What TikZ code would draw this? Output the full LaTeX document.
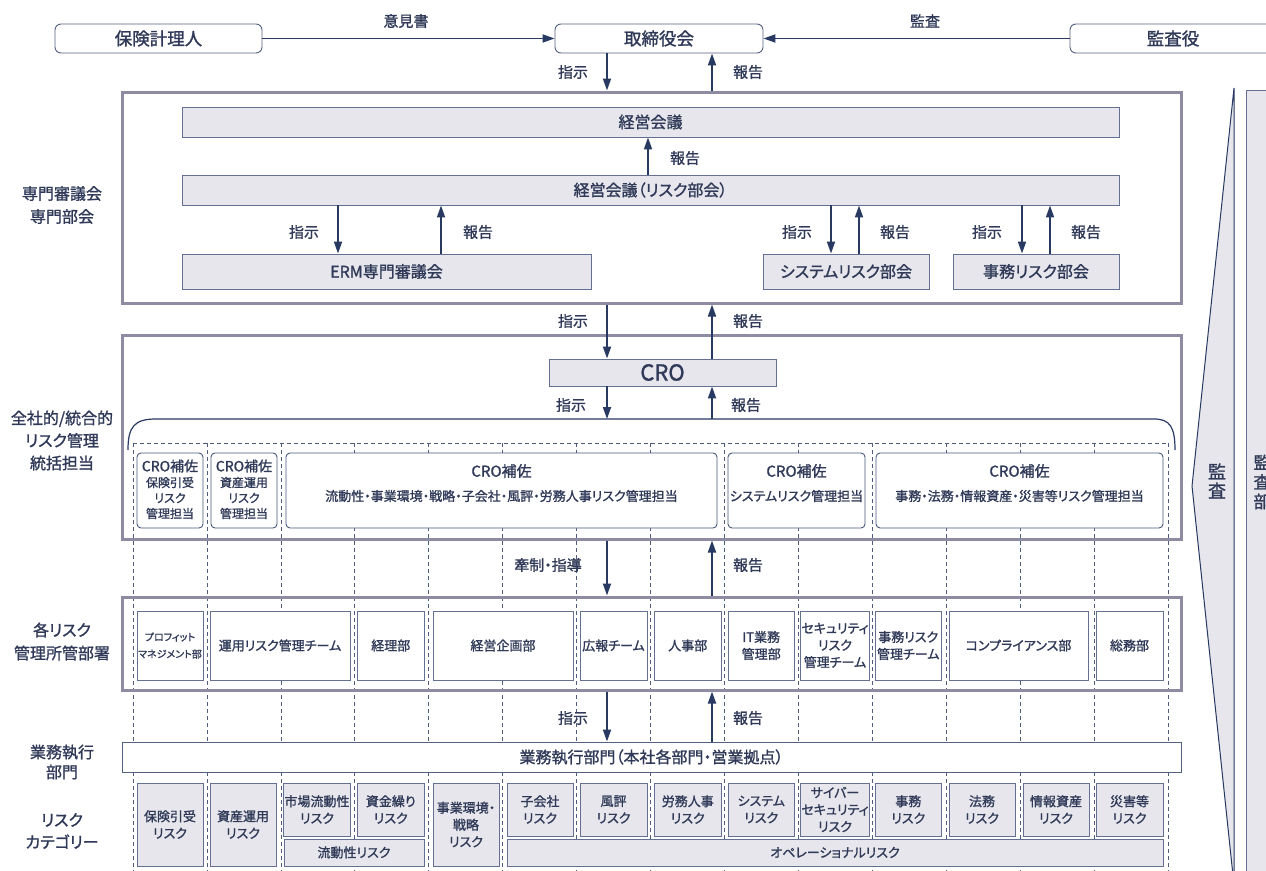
\documentclass[tikz,border=0pt]{standalone}
\usepackage{fontspec}
\setmainfont{Noto Sans CJK JP}[RawFeature=+palt, FakeBold=1.3]
\usetikzlibrary{arrows.meta}
\definecolor{navy}{RGB}{40,57,98}
\definecolor{txt}{RGB}{48,58,88}
\definecolor{gfill}{RGB}{230,230,236}
\definecolor{gbord}{RGB}{100,112,145}
\definecolor{framec}{RGB}{143,139,162}
\definecolor{dashc}{RGB}{80,92,125}
\newcommand\mybox[7]{\node[#2,minimum width={(#5)-(#3)},minimum height={(#6)-(#4)}] (#1) at ({((#3)+(#5))/2},{((#4)+(#6))/2}) {#7};}
\tikzset{
 bxs/.style={draw=gbord, line width=0.9pt, inner sep=1pt, align=center, text=txt},
 gbox/.style={bxs, fill=gfill},
 wbox/.style={bxs, fill=white},
 rbox/.style={bxs, fill=white, rounded corners=4pt, draw=navy!85},
 tbox/.style={wbox, rounded corners=6pt, draw=navy!80, font=\fontsize{17.5}{20}\selectfont},
 frm/.style={draw=framec, line width=3pt, inner sep=0pt},
 arr/.style={draw=navy, line width=1.8pt, -{Triangle[length=12pt,width=8pt]}},
 lab/.style={text=txt, inner sep=0pt, font=\fontsize{15}{15}\selectfont},
 sidel/.style={text=txt, align=center, inner sep=0pt, font=\fontsize{16}{23}\selectfont},
 dsh/.style={draw=dashc, line width=0.8pt, dash pattern=on 4pt off 3pt},
 fa/.style={font=\fontsize{13}{17}\selectfont},
 fb/.style={font=\fontsize{16}{20}\selectfont},
 txtn/.style={text=txt, inner sep=0pt, align=center},
}
\begin{document}
\begin{tikzpicture}[x=1pt,y=-1pt]
\useasboundingbox (0,0) rectangle (1266,870);
% coordinates for arrow columns
\coordinate (xA) at (607,0);
\coordinate (xB) at (712,0);
\coordinate (xC) at (648,0);
\coordinate (xD) at (338,0);
\coordinate (xE) at (441,0);
\coordinate (xF) at (831,0);
\coordinate (xG) at (859,0);
\coordinate (xH) at (1022,0);
\coordinate (xI) at (1050,0);
\coordinate (brk) at (650,419);

% dashed grid
\draw[dsh] (133,443) -- (1168,443);
\foreach \x in {133,206.9,280.9,354.8,428.7,502.7,576.6,650.5,724.4,798.4,872.3,946.2,1020.2,1094.1,1168}
  \draw[dsh] (\x,443) -- (\x,875);

% top row
\mybox{hk}{tbox}{55}{24}{262}{53}{保険計理人}
\mybox{tr}{tbox}{555}{24}{763}{53}{取締役会}
\mybox{ks}{tbox}{1070}{24}{1276}{53}{監査役}
\draw[arr] (hk.east) -- (tr.west);
\draw[arr] (ks.west) -- (tr.east);
\node[lab] at (406,21) {意見書};
\node[lab] at (925,21) {監査};

% frame 1
\mybox{f1}{frm}{122}{92}{1181}{303}{}
\mybox{km}{gbox,fb}{182}{107}{1119}{137}{経営会議}
\mybox{kr}{gbox,fb}{182}{175}{1119}{205}{経営会議（リスク部会）}
\mybox{erm}{gbox,fb}{182}{254}{591}{289}{ERM専門審議会}
\mybox{sys}{gbox,fb}{763}{254}{929}{289}{システムリスク部会}
\mybox{jim}{gbox,fb}{953}{254}{1119}{289}{事務リスク部会}
\draw[arr] (tr.south -| xA) -- (f1.north -| xA);
\draw[arr] (f1.north -| xB) -- (tr.south -| xB);
\node[lab] at (573,72) {指示};
\node[lab] at (748,72) {報告};
\draw[arr] (kr.north -| xC) -- (km.south -| xC);
\node[lab] at (685,158) {報告};
\draw[arr] (kr.south -| xD) -- (erm.north -| xD);
\draw[arr] (erm.north -| xE) -- (kr.south -| xE);
\draw[arr] (kr.south -| xF) -- (sys.north -| xF);
\draw[arr] (sys.north -| xG) -- (kr.south -| xG);
\draw[arr] (kr.south -| xH) -- (jim.north -| xH);
\draw[arr] (jim.north -| xI) -- (kr.south -| xI);
\node[lab] at (304,232) {指示};
\node[lab] at (478,232) {報告};
\node[lab] at (797,232) {指示};
\node[lab] at (895,232) {報告};
\node[lab] at (987,232) {指示};
\node[lab] at (1086,232) {報告};
\node[sidel] at (62,205) {専門審議会\\専門部会};

% frame 2
\mybox{f2}{frm}{122}{335}{1181}{539}{}
\mybox{cro}{gbox,font=\fontsize{22}{24}\selectfont}{549}{359}{776}{386}{CRO}
\draw[arr] (f1.south -| xA) -- (cro.north -| xA);
\draw[arr] (cro.north -| xB) -- (f1.south -| xB);
\node[lab] at (573,321) {指示};
\node[lab] at (748,321) {報告};
\draw[navy, line width=1.2pt] (128,450) .. controls (128,427) and (134,419) .. (156,419) -- (1154,419) .. controls (1170,419) and (1175,427) .. (1175,450);
\draw[arr] (cro.south -| xA) -- (brk -| xA);
\draw[arr] (brk -| xB) -- (cro.south -| xB);
\node[lab] at (571,405) {指示};
\node[lab] at (746,405) {報告};
\node[sidel, font=\fontsize{16}{22.5}\selectfont] at (62,440.5) {全社的/統合的\\リスク管理\\統括担当};

\mybox{b1}{rbox}{137}{453}{203}{528}{}
\mybox{b2}{rbox}{211}{453}{277}{528}{}
\mybox{b3}{rbox}{286}{453}{717}{528}{}
\mybox{b4}{rbox}{728}{453}{865}{528}{}
\mybox{b5}{rbox}{876}{453}{1163}{528}{}
\node[txtn, font=\fontsize{14}{16}\selectfont] at (170,466) {CRO補佐};
\node[txtn, font=\fontsize{12}{15.5}\selectfont] at (170,498) {保険引受\\リスク\\管理担当};
\node[txtn, font=\fontsize{14}{16}\selectfont] at (244,466) {CRO補佐};
\node[txtn, font=\fontsize{12}{15.5}\selectfont] at (244,498) {資産運用\\リスク\\管理担当};
\node[txtn, font=\fontsize{15}{16}\selectfont] at (501.5,471) {CRO補佐};
\node[txtn, font=\fontsize{13}{16}\selectfont] at (501.5,496) {流動性・事業環境・戦略・子会社・風評・労務人事リスク管理担当};
\node[txtn, font=\fontsize{15}{16}\selectfont] at (796.5,471) {CRO補佐};
\node[txtn, font=\fontsize{13}{16}\selectfont] at (796.5,496) {システムリスク管理担当};
\node[txtn, font=\fontsize{15}{16}\selectfont] at (1019.5,471) {CRO補佐};
\node[txtn, font=\fontsize{13}{16}\selectfont] at (1019.5,496) {事務・法務・情報資産・災害等リスク管理担当};

% frame 3
\mybox{f3}{frm}{122}{597}{1181}{690}{}
\draw[arr] (f2.south -| xA) -- (f3.north -| xA);
\draw[arr] (f3.north -| xB) -- (f2.south -| xB);
\node[lab] at (548,565) {牽制・指導};
\node[lab] at (748,565) {報告};
\node[sidel] at (62,641.5) {各リスク\\管理所管部署};
\mybox{pm}{wbox,font=\fontsize{10}{17}\selectfont}{137}{611}{203}{680}{プロフィット\\マネジメント部}
\mybox{ur}{wbox,fa}{210}{611}{350}{680}{運用リスク管理チーム}
\mybox{kb}{wbox,fa}{357.5}{611}{424}{680}{経理部}
\mybox{kk}{wbox,fa}{433}{611}{573}{680}{経営企画部}
\mybox{kh}{wbox,fa}{580}{611}{647}{680}{広報チーム}
\mybox{jj}{wbox,fa}{654.5}{611}{721}{680}{人事部}
\mybox{itb}{wbox,fa}{728}{611}{794.5}{680}{IT業務\\管理部}
\mybox{sec}{wbox,fa}{802}{611}{868}{680}{セキュリティ\\リスク\\管理チーム}
\mybox{jr}{wbox,fa}{875}{611}{941.5}{680}{事務リスク\\管理チーム}
\mybox{cp}{wbox,fa}{949}{611}{1088}{680}{コンプライアンス部}
\mybox{sm}{wbox,fa}{1096}{611}{1163}{680}{総務部}

% business unit
\mybox{gy}{wbox,fb,draw=navy!80}{122}{742}{1181}{772}{業務執行部門（本社各部門・営業拠点）}
\draw[arr] (f3.south -| xA) -- (gy.north -| xA);
\draw[arr] (gy.north -| xB) -- (f3.south -| xB);
\node[lab] at (573,718) {指示};
\node[lab] at (748,718) {報告};
\node[sidel, font=\fontsize{16}{20}\selectfont] at (62,762) {業務執行\\部門};
\node[sidel, font=\fontsize{16}{22}\selectfont] at (62,831) {リスク\\カテゴリー};

% risk categories
\mybox{r1}{gbox,fa}{137}{783}{203}{866}{保険引受\\リスク}
\mybox{r2}{gbox,fa}{210}{783}{276}{866}{資産運用\\リスク}
\mybox{r3}{gbox,fa}{284}{783}{350}{836}{市場流動性\\リスク}
\mybox{r4}{gbox,fa}{357.5}{783}{424}{836}{資金繰り\\リスク}
\mybox{r34}{gbox,fa}{284}{839}{424}{866}{流動性リスク}
\mybox{r5}{gbox,fa}{433}{783}{499}{866}{事業環境・\\戦略\\リスク}
\mybox{r6}{gbox,fa}{507}{783}{573}{836}{子会社\\リスク}
\mybox{r7}{gbox,fa}{580}{783}{647}{836}{風評\\リスク}
\mybox{r8}{gbox,fa}{654.5}{783}{721}{836}{労務人事\\リスク}
\mybox{r9}{gbox,fa}{728}{783}{794.5}{836}{システム\\リスク}
\mybox{r10}{gbox,fa}{802}{783}{868}{836}{サイバー\\セキュリティ\\リスク}
\mybox{r11}{gbox,fa}{875}{783}{941.5}{836}{事務\\リスク}
\mybox{r12}{gbox,fa}{949}{783}{1015}{836}{法務\\リスク}
\mybox{r13}{gbox,fa}{1023}{783}{1089}{836}{情報資産\\リスク}
\mybox{r14}{gbox,fa}{1096}{783}{1163}{836}{災害等\\リスク}
\mybox{rop}{gbox,fa}{507}{839}{1163}{866}{オペレーショナルリスク}

% audit
\filldraw[fill=gfill, draw=navy, line width=1pt] (1234,88) -- (1192,486) -- (1234,885) -- cycle;
\node[txtn, font=\fontsize{18}{19}\selectfont] at (1217,481) {監\\査};
\mybox{kb2}{gbox}{1246}{90}{1290}{890}{}
\node[txtn, font=\fontsize{17}{19.5}\selectfont] at (1262,482) {監\\査\\部};
\end{tikzpicture}
\end{document}
